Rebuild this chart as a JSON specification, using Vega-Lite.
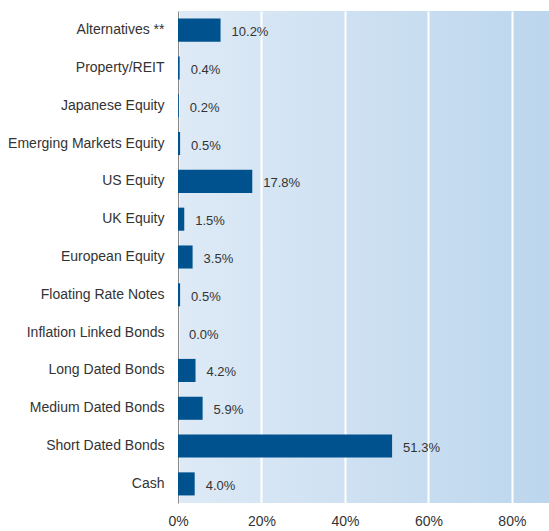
{
  "$schema": "https://vega.github.io/schema/vega-lite/v6.json",
  "width": 371,
  "height": 492,
  "autosize": "none",
  "padding": {"left": 178, "top": 11, "right": 0, "bottom": 28},
  "background": "white",
  "config": {
    "view": {"stroke": null, "fill": {"gradient": "linear", "x1": 0, "y1": 0, "x2": 1, "y2": 0, "stops": [{"offset": 0, "color": "#deeaf6"}, {"offset": 1, "color": "#bcd6ed"}]}},
    "font": "Liberation Sans",
    "axis": {"labelFont": "Liberation Sans", "labelFontSize": 14, "labelColor": "#333333"}
  },
  "data": {
    "values": [
      {"asset": "Alternatives **", "value": 0.102},
      {"asset": "Property/REIT", "value": 0.004},
      {"asset": "Japanese Equity", "value": 0.002},
      {"asset": "Emerging Markets Equity", "value": 0.005},
      {"asset": "US Equity", "value": 0.178},
      {"asset": "UK Equity", "value": 0.015},
      {"asset": "European Equity", "value": 0.035},
      {"asset": "Floating Rate Notes", "value": 0.005},
      {"asset": "Inflation Linked Bonds", "value": 0.0},
      {"asset": "Long Dated Bonds", "value": 0.042},
      {"asset": "Medium Dated Bonds", "value": 0.059},
      {"asset": "Short Dated Bonds", "value": 0.513},
      {"asset": "Cash", "value": 0.04}
    ]
  },
  "encoding": {
    "y": {"field": "asset", "type": "nominal", "sort": null,
      "scale": {"paddingInner": 0.39, "paddingOuter": 0.2},
      "axis": {"title": null, "ticks": false, "domain": true, "domainColor": "#888888", "domainWidth": 1, "labelPadding": 14, "grid": false}},
    "x": {"field": "value", "type": "quantitative",
      "scale": {"domain": [0, 0.889], "nice": false, "zero": true},
      "axis": {"title": null, "format": "%", "values": [0, 0.2, 0.4, 0.6, 0.8], "domain": false, "ticks": false, "grid": true, "gridColor": "white", "gridWidth": 2, "gridOpacity": 1, "labelPadding": 11, "labelFontSize": 14, "labelFlush": false}}
  },
  "layer": [
    {"mark": {"type": "bar", "color": "#00528f"}},
    {"mark": {"type": "text", "align": "left", "baseline": "middle", "dx": 11, "dy": 2, "fontSize": 13, "color": "#333333", "font": "Liberation Sans"},
      "encoding": {"text": {"field": "value", "type": "quantitative", "format": ".1%"}}}
  ]
}
